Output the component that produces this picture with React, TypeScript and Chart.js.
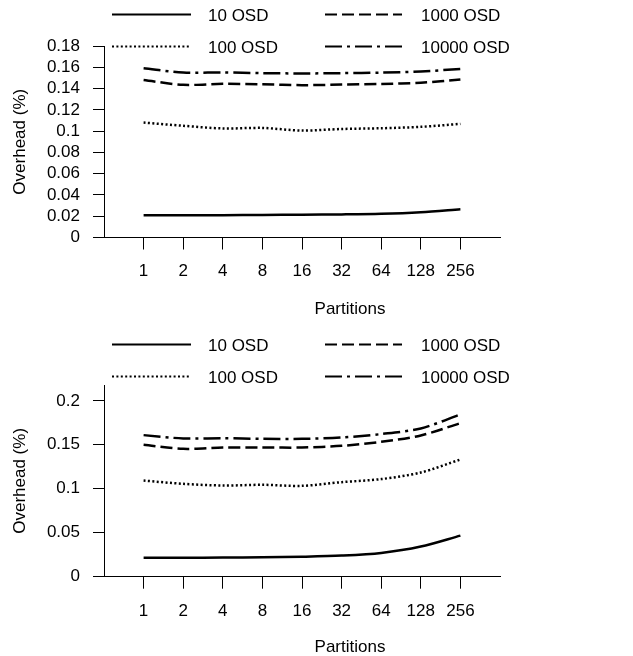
import React, { useEffect, useRef } from "react";
import { Chart, registerables } from "chart.js";

Chart.register(...registerables);

const categories = ["1", "2", "4", "8", "16", "32", "64", "128", "256"];
const seriesNames = ["10 OSD", "100 OSD", "1000 OSD", "10000 OSD"];

// top chart
const top10 = [0.021, 0.021, 0.021, 0.0212, 0.0214, 0.0217, 0.0223, 0.0238, 0.0265];
const top100 = [0.108, 0.105, 0.1025, 0.103, 0.1005, 0.102, 0.1027, 0.104, 0.1068];
const top1000 = [0.148, 0.1435, 0.1445, 0.144, 0.1432, 0.1437, 0.1443, 0.1455, 0.1485];
const top10000 = [0.159, 0.155, 0.1552, 0.1545, 0.1542, 0.1545, 0.155, 0.156, 0.1585];
const topYTicks = [0, 0.02, 0.04, 0.06, 0.08, 0.1, 0.12, 0.14, 0.16, 0.18];

// bottom chart
const bot10 = [0.0215, 0.0215, 0.0217, 0.022, 0.0227, 0.024, 0.027, 0.0343, 0.0467];
const bot100 = [0.1093, 0.1056, 0.1037, 0.1045, 0.1033, 0.1075, 0.111, 0.1185, 0.1333];
const bot1000 = [0.15, 0.1454, 0.1469, 0.1469, 0.1469, 0.1488, 0.1534, 0.1606, 0.1747];
const bot10000 = [0.161, 0.1572, 0.1575, 0.1568, 0.1568, 0.1583, 0.1622, 0.1686, 0.1845];
const botYTicks = [0, 0.05, 0.1, 0.15, 0.2];

const FONT = "'Liberation Sans', Arial, sans-serif";
const dashes = [[], [2, 2.4], [12, 5], [17, 5, 3, 5]];

type Cfg = {
  height: number;
  top: number;
  bottom: number;
  ymax: number;
  yTicks: number[];
  series: number[][];
  titleY: number;
};

const overlay = {
  id: "overlay",
  afterDraw(chart: any) {
    const ctx = chart.ctx;
    const ca = chart.chartArea;
    const cfg = chart.options.plugins.overlay as Cfg;
    ctx.save();
    ctx.fillStyle = "#000";
    ctx.strokeStyle = "#000";
    ctx.font = `17px ${FONT}`;
    ctx.textBaseline = "middle";
    // legend: 2x2 grid
    const order = [0, 2, 1, 3];
    const cols = [
      { x0: 112, x1: 191, tx: 208 },
      { x0: 325, x1: 402, tx: 421 },
    ];
    const rows = [14.5, 46.5];
    order.forEach((di, k) => {
      const ds = chart.data.datasets[di];
      const c = cols[k % 2];
      const y = rows[Math.floor(k / 2)];
      ctx.save();
      ctx.lineWidth = 2;
      ctx.setLineDash(ds.borderDash || []);
      ctx.beginPath();
      ctx.moveTo(c.x0, y);
      ctx.lineTo(c.x1, y);
      ctx.stroke();
      ctx.restore();
      ctx.textAlign = "left";
      ctx.fillText(ds.label, c.tx, y + 1.5);
    });
    // x title
    ctx.textAlign = "center";
    ctx.fillText("Partitions", 350, cfg.titleY);
    // y title
    ctx.save();
    ctx.translate(20, (ca.top + ca.bottom) / 2);
    ctx.rotate(-Math.PI / 2);
    ctx.fillText("Overhead (%)", 0, 0);
    ctx.restore();
    ctx.restore();
  },
};

function OneChart({ cfg }: { cfg: Cfg }) {
  const ref = useRef<HTMLCanvasElement>(null);
  useEffect(() => {
    if (!ref.current) return;
    const chart = new Chart(ref.current, {
      type: "line",
      data: {
        datasets: cfg.series.map((vals, i) => ({
          label: seriesNames[i],
          data: vals.map((v, j) => ({ x: j, y: v })),
          borderColor: "#000",
          borderWidth: 2.5,
          borderDash: dashes[i],
          pointRadius: 0,
          tension: 0.3,
          fill: false,
        })),
      },
      options: {
        animation: false,
        responsive: false,
        layout: { padding: { left: 0, right: 133, top: cfg.top, bottom: 0 } },
        plugins: {
          legend: { display: false },
          tooltip: { enabled: false },
          overlay: cfg,
        } as any,
        scales: {
          x: {
            type: "linear",
            min: -1,
            max: 9,
            afterBuildTicks: (s: any) => {
              s.ticks = categories.map((_, i) => ({ value: i }));
            },
            afterFit: (s: any) => {
              s.height = cfg.height - cfg.bottom;
            },
            ticks: {
              autoSkip: false,
              maxRotation: 0,
              padding: 12,
              color: "#000",
              font: { family: FONT, size: 17 },
              callback: (v: any) => categories[v as number],
            },
            grid: { drawOnChartArea: false, drawTicks: true, tickLength: 12, color: "#000", tickWidth: 1 },
            border: { display: true, color: "#000", width: 1 },
          },
          y: {
            type: "linear",
            min: 0,
            max: cfg.ymax,
            afterBuildTicks: (s: any) => {
              s.ticks = cfg.yTicks.map((v) => ({ value: v }));
            },
            afterFit: (s: any) => {
              s.width = 104;
            },
            ticks: {
              autoSkip: false,
              padding: 13,
              color: "#000",
              font: { family: FONT, size: 17 },
              callback: (v: any) => String(v),
            },
            grid: { drawOnChartArea: false, drawTicks: true, tickLength: 11, color: "#000", tickWidth: 1 },
            border: { display: true, color: "#000", width: 1 },
          },
        },
      },
      plugins: [overlay],
    } as any);
    return () => chart.destroy();
  }, [cfg]);
  return <canvas ref={ref} width={633} height={cfg.height} style={{ display: "block" }} />;
}

const topCfg: Cfg = {
  height: 330,
  top: 46,
  bottom: 237.5,
  ymax: 0.18,
  yTicks: topYTicks,
  series: [top10, top100, top1000, top10000],
  titleY: 309,
};
const botCfg: Cfg = {
  height: 326,
  top: 55,
  bottom: 246.7,
  ymax: 0.218,
  yTicks: botYTicks,
  series: [bot10, bot100, bot1000, bot10000],
  titleY: 317,
};

export default function App() {
  return (
    <div style={{ position: "absolute", left: 0, top: 0, width: 633, height: 656, background: "#fff" }}>
      <OneChart cfg={topCfg} />
      <OneChart cfg={botCfg} />
    </div>
  );
}
